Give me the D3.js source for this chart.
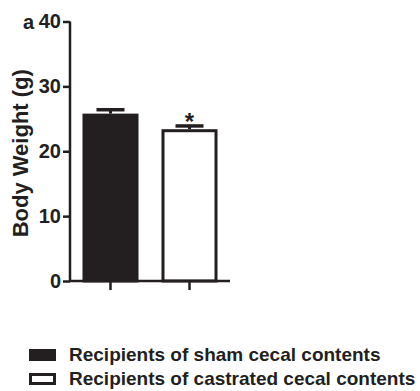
<!DOCTYPE html>
<html>
<head>
<meta charset="utf-8">
<script src="https://cdn.jsdelivr.net/npm/d3@7"></script>
<style>
  html, body { margin: 0; padding: 0; background: #fff; }
  svg { display: block; }
  text { font-family: "Liberation Sans", Arial, sans-serif; font-weight: bold; fill: #231f20; }
</style>
</head>
<body>
<svg id="chart" width="420" height="391"></svg>
<script>
// Body weight of recipient mice (mean ± SEM)
const groups = ["Recipients of sham cecal contents", "Recipients of castrated cecal contents"];
const means = [25.8, 23.4];
const sems = [0.6, 0.5];
const fills = ["#231f20", "#ffffff"];
const significance = ["", "*"];
const yTicks = [0, 10, 20, 30, 40];

const ink = "#231f20";
const svg = d3.select("#chart");

const plot = { left: 70, right: 230, top: 21.5, bottom: 281 };

const x = d3.scaleBand()
  .domain(groups)
  .range([plot.left, plot.right])
  .paddingInner(0.291)
  .paddingOuter(0.158);

const y = d3.scaleLinear()
  .domain([0, 40])
  .range([plot.bottom, plot.top]);

// bars
const sw = 3;
svg.append("g").selectAll("rect")
  .data(groups)
  .join("rect")
  .attr("x", d => x(d) + sw / 2)
  .attr("width", x.bandwidth() - sw)
  .attr("y", (d, i) => y(means[i]) + sw / 2)
  .attr("height", (d, i) => y(0) - y(means[i]) - sw / 2)
  .attr("fill", (d, i) => fills[i])
  .attr("stroke", ink)
  .attr("stroke-width", sw);

// upper error bars
const err = svg.append("g").attr("stroke", ink);
groups.forEach((g, i) => {
  const cx = x(g) + x.bandwidth() / 2;
  const capHalf = x.bandwidth() / 4;
  err.append("line")
    .attr("stroke-width", 3)
    .attr("x1", cx).attr("x2", cx)
    .attr("y1", y(means[i])).attr("y2", y(means[i] + sems[i]));
  err.append("line")
    .attr("stroke-width", 3.5)
    .attr("x1", cx - capHalf).attr("x2", cx + capHalf)
    .attr("y1", y(means[i] + sems[i])).attr("y2", y(means[i] + sems[i]));
});

// significance marks
svg.append("g").selectAll("text")
  .data(groups)
  .join("text")
  .attr("x", d => x(d) + x.bandwidth() / 2)
  .attr("y", (d, i) => y(means[i] + sems[i]) + 4)
  .attr("text-anchor", "middle")
  .attr("font-size", 24)
  .text((d, i) => significance[i]);

// y axis
const yAxis = svg.append("g")
  .attr("transform", `translate(${plot.left},0)`)
  .call(d3.axisLeft(y).tickValues(yTicks).tickSize(7).tickSizeOuter(0).tickPadding(2));
yAxis.select(".domain").attr("stroke", ink).attr("stroke-width", 2.5)
  .attr("d", `M0,${plot.top}V${plot.bottom}`);
yAxis.selectAll(".tick line").attr("stroke", ink).attr("stroke-width", 2.5);
yAxis.selectAll(".tick text")
  .attr("font-size", 20)
  .attr("font-family", "Liberation Sans, Arial, sans-serif")
  .attr("font-weight", "bold")
  .attr("fill", ink);

// x axis (ticks only)
const xAxis = svg.append("g")
  .attr("transform", `translate(0,${plot.bottom})`)
  .call(d3.axisBottom(x).tickSize(9).tickSizeOuter(0).tickFormat(""));
xAxis.select(".domain").attr("stroke", ink).attr("stroke-width", 2.5)
  .attr("d", `M${plot.left - 1},0H${plot.right}`);
xAxis.selectAll(".tick line").attr("stroke", ink).attr("stroke-width", 2.5);

// panel letter
svg.append("text")
  .attr("x", 23).attr("y", y(40) + 7)
  .attr("font-size", 20)
  .text("a");

// y axis title
svg.append("text")
  .attr("transform", `translate(28,${(plot.top + plot.bottom) / 2 + 2}) rotate(-90)`)
  .attr("text-anchor", "middle")
  .attr("font-size", 22)
  .text("Body Weight (g)");

// legend
const legend = svg.append("g");
groups.forEach((g, i) => {
  const row = legend.append("g").attr("transform", `translate(0,${349 + i * 24})`);
  row.append("rect")
    .attr("x", 30.5).attr("y", 1.5)
    .attr("width", 24).attr("height", 9)
    .attr("fill", fills[i])
    .attr("stroke", ink)
    .attr("stroke-width", 3);
  row.append("text")
    .attr("x", 69).attr("y", 11.5)
    .attr("font-size", 19)
    .text(g);
});
</script>
</body>
</html>
